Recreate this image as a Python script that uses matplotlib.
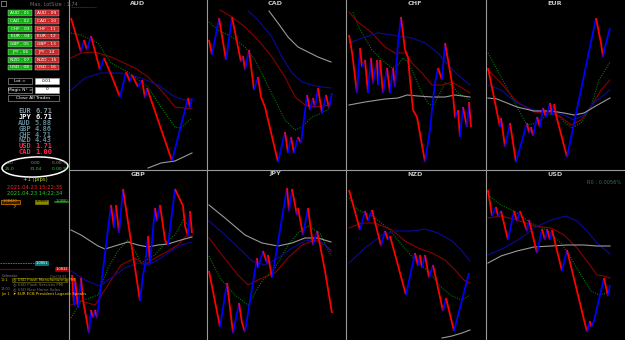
import matplotlib
matplotlib.use("Agg")
import matplotlib.pyplot as plt
from matplotlib.patches import Rectangle, Ellipse
from matplotlib.collections import LineCollection

# ---------------- data (bar index, level on screen scale; smaller = higher price) -------------
AUD_PIV = [(3,18),(13,52),(16,40),(19,50),(23,36),(32,70),(36,58),(42,72),(52,97),(58,72),(62,82),
           (64,75),(70,87),(74,80),(77,98),(79,88),(104,161),(120,98),(122,108),(124,98)]
AUD_GREEN = [(3,33),(13,35),(30,43),(43,63),(60,72),(80,87),(93,107),(107,127),(113,128),(124,118)]
AUD_RED = [(3,58),(13,53),(27,52),(43,57),(67,68),(80,77),(93,90),(107,107),(124,109)]
AUD_BLUE = [(3,90),(17,78),(33,73),(53,73),(73,78),(90,85),(107,97),(117,100),(124,100)]
AUD_GRAY = [(80,168),(93,163),(107,161),(124,153)]

CAD_PIV = [(4,40),(7,55),(14,18),(21,60),(27,17),(36,62),(38,56),(40,70),(44,50),(49,90),(53,77),
           (56,97),(60,107),(73,162),(80,132),(83,153),(86,137),(89,153),(93,137),(96,143),(102,95),
           (105,110),(108,98),(110,107),(113,88),(117,113),(121,95),(124,108),(127,93)]
CAD_GREEN = [(4,22),(13,30),(27,37),(40,47),(50,60),(60,80),(70,100),(80,120),(90,130),(97,127),
             (107,117),(117,113),(125,108)]
CAD_RED = [(15,10),(27,17),(40,27),(53,40),(67,57),(80,77),(90,97),(100,105),(110,107),(125,105)]
CAD_BLUE = [(43,11),(53,20),(67,37),(77,57),(87,73),(97,82),(107,85),(117,87),(126,88)]
CAD_GRAY = [(64,11),(73,23),(83,37),(93,47),(103,52),(113,57),(126,62)]

CHF_PIV = [(4,35),(7,52),(12,93),(15,48),(17,67),(20,60),(23,93),(26,58),(28,83),(32,60),(33,85),
           (35,60),(38,93),(42,68),(45,93),(48,68),(50,87),(53,43),(56,17),(60,50),(63,57),(65,80),
           (68,110),(72,117),(80,162),(85,130),(87,110),(90,83),(93,68),(97,80),(100,43),(103,60),
           (107,83),(110,118),(113,110),(115,137),(118,107),(122,127),(124,102),(126,127)]
CHF_GREEN = [(8,12),(12,23),(17,33),(27,50),(37,60),(47,68),(53,65),(58,58),(63,62),(70,77),(77,93),
             (83,103),(88,106),(95,93),(100,83),(107,85),(113,93),(120,97),(125,100)]
CHF_RED = [(4,12),(13,22),(27,33),(40,47),(50,53),(60,53),(67,63),(77,73),(87,85),(97,85),(107,82),
           (117,88),(125,93)]
CHF_BLUE = [(4,43),(17,38),(33,33),(47,35),(67,38),(80,43),(93,53),(103,65),(113,75),(125,85)]
CHF_GRAY = [(4,105),(20,102),(40,99),(53,98),(62,95),(73,96),(87,97),(100,97),(110,95),(125,97)]

EUR_PIV = [(4,68),(16,127),(17,118),(21,147),(26,123),(32,162),(43,123),(45,133),(47,127),(49,136),
           (53,117),(56,127),(59,108),(62,117),(66,103),(68,115),(70,104),(72,115),(83,157),(112,18),
           (117,43),(119,57),(121,47),(126,28)]
EUR_GREEN = [(4,53),(17,77),(33,107),(43,125),(53,123),(63,115),(72,113),(80,122),(88,128),(97,123),
             (107,107),(115,80),(126,62)]
EUR_RED = [(4,70),(17,83),(33,102),(50,112),(67,113),(77,117),(87,125),(97,120),(107,107),(117,90),
           (126,80)]
EUR_BLUE = [(4,85),(17,90),(33,103),(50,110),(67,112),(80,115),(90,120),(100,115),(110,103),(126,90)]
EUR_GRAY = [(4,98),(13,99),(33,107),(50,111),(67,111),(80,113),(90,115),(100,113),(110,107),(126,98)]

GBP_PIV = [(4,107),(6,137),(7,110),(10,140),(13,110),(15,132),(21,165),(23,142),(25,150),(27,142),
           (29,150),(43,37),(46,60),(48,37),(51,65),(55,21),(72,133),(75,107),(77,98),(80,68),(82,95),
           (87,40),(89,53),(92,37),(97,72),(100,77),(107,21),(115,38),(117,58),(120,68),(122,43),(124,65)]
GBP_GREEN = [(3,150),(13,133),(30,127),(40,100),(50,83),(60,72),(67,83),(73,95),(87,87),(97,75),
             (107,67),(115,52),(124,60)]
GBP_RED = [(3,137),(13,133),(27,137),(40,117),(53,97),(67,90),(77,97),(87,90),(100,83),(110,77),
           (118,68),(124,68)]
GBP_BLUE = [(3,103),(17,112),(32,118),(43,110),(57,100),(70,95),(80,97),(90,92),(100,85),(113,77),(124,74)]
GBP_GRAY = [(3,62),(13,67),(30,78),(37,81),(50,77),(60,74),(70,77),(80,79),(90,77),(100,76),(113,72),(124,69)]

JPY_PIV = [(4,103),(15,159),(22,115),(28,165),(34,135),(37,155),(40,164),(52,90),(53,100),(58,83),
           (62,95),(63,87),(67,110),(82,20),(84,43),(87,21),(92,47),(93,40),(98,67),(103,40),(108,77),
           (112,63),(115,77),(120,103),(127,145)]
JPY_GREEN = [(4,88),(15,110),(30,127),(43,137),(57,113),(70,100),(83,77),(93,65),(103,58),(115,65),(126,88)]
JPY_RED = [(4,70),(17,87),(33,107),(43,117),(57,110),(70,105),(83,90),(97,77),(110,72),(120,77),(126,83)]
JPY_BLUE = [(4,53),(20,67),(37,83),(47,93),(60,97),(73,90),(87,80),(100,73),(113,71),(126,82)]
JPY_GRAY = [(4,37),(20,50),(40,67),(57,75),(73,78),(87,75),(100,70),(113,70),(126,74)]

NZD_PIV = [(4,22),(15,62),(20,43),(23,53),(27,42),(36,78),(40,63),(43,72),(45,68),(61,127),(70,85),
           (73,98),(75,87),(77,100),(80,87),(84,110),(88,97),(98,143),(101,130),(109,163),(124,105)]
NZD_GREEN = [(4,30),(13,42),(27,48),(43,60),(57,77),(70,92),(83,103),(97,120),(107,128),(117,132),(125,127)]
NZD_RED = [(4,60),(17,55),(30,55),(47,62),(60,73),(73,80),(87,85),(100,92),(110,102),(120,113),(125,115)]
NZD_BLUE = [(4,95),(20,80),(37,67),(50,63),(67,63),(80,61),(93,65),(107,73),(117,83),(125,93)]
NZD_GRAY = [(97,170),(107,168),(117,165),(125,162)]

USD_PIV = [(4,22),(8,48),(12,39),(14,48),(17,43),(24,72),(30,43),(33,53),(36,43),(43,63),(45,52),
           (53,85),(58,61),(61,72),(63,61),(66,72),(68,62),(78,103),(83,82),(103,164),(106,153),
           (107,159),(110,153),(120,110),(124,128),(126,117)]
USD_GREEN = [(4,27),(17,37),(30,43),(47,55),(63,62),(77,75),(87,90),(97,107),(107,123),(115,127),(126,124)]
USD_RED = [(4,50),(17,48),(33,52),(50,58),(67,60),(80,67),(93,80),(103,93),(113,107),(120,108),(126,110)]
USD_BLUE = [(4,87),(20,80),(37,70),(50,60),(67,52),(82,48),(93,53),(103,63),(113,75),(126,86)]
USD_GRAY = [(4,95),(17,88),(33,83),(50,79),(67,78),(83,77),(100,77),(113,78),(126,78)]

BUY_BUTTONS = ["AUD - 01","CAD - 02","CHF - 03","EUR - 04","GBP - 05","JPY - 06","NZD - 07","USD - 08"]
SELL_BUTTONS = ["AUD - 09","CAD - 10","CHF - 11","EUR - 12","GBP - 13","JPY - 14","NZD - 15","USD - 16"]
STRENGTH_CCY = ["EUR","JPY","AUD","GBP","CHF","NZD","USD","CAD"]
STRENGTH_VAL = [6.71, 6.71, 5.88, 4.86, 4.71, 4.43, 1.71, 1.00]
STRENGTH_COL = ["#7d97a8","#ffffff","#5f8794","#5f8794","#5f8794","#5f8794","#ff2a55","#ff2a55"]
NEWS_TIME = ["10:1","","14:00","Jun 1"]
NEWS_TEXT = ["\u25ce USD Flash Manufacturing PMI","\u25ce USD Flash Services PMI",
             "\u25ce USD New Home Sales","\u27a4 EUR ECB President Lagarde Speaks"]
NEWS_COL = ["#d8c800","#707070","#707070","#ffd400"]

# ---------------- drawing -------------
W, H = 625, 340
fig = plt.figure(figsize=(6.25, 3.4), dpi=100, facecolor="black")

RENKO_UP, RENKO_DN = "#0000ff", "#ff0000"
MA_STYLES = [("#007a00", (0, (1, 1.2)), 0.8), ("#8a0000", "-", 0.8),
             ("#0a0a9a", "-", 0.8), ("#9a9a9a", "-", 0.8)]

def draw_panel(ox, oy, w, h, name, piv, mas, ty):
    ax = fig.add_axes([ox / W, 1 - (oy + h) / H, w / W, h / H])
    ax.set_xlim(0, w)
    ax.set_ylim(h, 0)
    ax.axis("off")
    ax.patch.set_visible(False)
    for ma, (c, ls, lw) in zip(mas, MA_STYLES):
        xs = [p[0] for p in ma]
        ys = [p[1] for p in ma]
        ax.plot(xs, ys, color=c, linestyle=ls, lw=lw, zorder=2)
    segs, cols = [], []
    for a, b in zip(piv[:-1], piv[1:]):
        segs.append([a, b])
        cols.append(RENKO_UP if b[1] < a[1] else RENKO_DN)
    ax.add_collection(LineCollection(segs, colors=cols, linewidths=1.3, zorder=3,
                                     capstyle="butt"))
    ax.text(w / 2, ty, name, color="#c8c8c8", fontsize=4.6, fontweight="bold",
            ha="center", va="center")
    return ax

cols_x = [68, 205, 345, 484]
rows = [(0, 170, 3.5), (168, 172, 6)]
top = [("AUD", AUD_PIV, [AUD_GREEN, AUD_RED, AUD_BLUE, AUD_GRAY]),
       ("CAD", CAD_PIV, [CAD_GREEN, CAD_RED, CAD_BLUE, CAD_GRAY]),
       ("CHF", CHF_PIV, [CHF_GREEN, CHF_RED, CHF_BLUE, CHF_GRAY]),
       ("EUR", EUR_PIV, [EUR_GREEN, EUR_RED, EUR_BLUE, EUR_GRAY])]
bot = [("GBP", GBP_PIV, [GBP_GREEN, GBP_RED, GBP_BLUE, GBP_GRAY]),
       ("JPY", JPY_PIV, [JPY_GREEN, JPY_RED, JPY_BLUE, JPY_GRAY]),
       ("NZD", NZD_PIV, [NZD_GREEN, NZD_RED, NZD_BLUE, NZD_GRAY]),
       ("USD", USD_PIV, [USD_GREEN, USD_RED, USD_BLUE, USD_GRAY])]
axes = {}
for (oy, h, ty), panels in zip(rows, [top, bot]):
    for ox, (name, piv, mas) in zip(cols_x, panels):
        axes[name] = draw_panel(ox, oy, 141 if ox == 484 else 140, h, name, piv, mas, ty)

axes["AUD"].plot([3, 28], [7, 7], color="#b00000", lw=0.6, ls=(0, (2, 0.6)))
axes["USD"].text(120, 14, "R0 : 0.0056%", color="#3f6a6a", fontsize=3.6, ha="center", va="center")

# overlay in pixel coordinates
ov = fig.add_axes([0, 0, 1, 1])
ov.set_xlim(0, W)
ov.set_ylim(H, 0)
ov.axis("off")
ov.patch.set_visible(False)

sep = "#9a9a9a"
for x in [69, 207, 346, 486]:
    ov.plot([x, x], [0, H], color=sep, lw=0.8)
ov.plot([69, W], [170, 170], color=sep, lw=0.8)

# ---- left control panel ----
ov.add_patch(Rectangle((1, 1), 5, 5, fill=False, ec="#a0a0a0", lw=0.5))
ov.text(30, 4, "Max. LotSize : 1.74", color="#707070", fontsize=3.6, va="center")

row_y = [10, 18, 26, 33.5, 41, 49, 57, 64.5]
for y, lb, ls in zip(row_y, BUY_BUTTONS, SELL_BUTTONS):
    ov.add_patch(Rectangle((8, y), 24, 5.5, fc="#10b010", ec="#d0d0d0", lw=0.3))
    ov.add_patch(Rectangle((35, y), 23.5, 5.5, fc="#c82828", ec="#d0d0d0", lw=0.3))
    ov.text(20, y + 2.9, lb, color="white", fontsize=3.2, ha="center", va="center")
    ov.text(46.7, y + 2.9, ls, color="white", fontsize=3.2, ha="center", va="center")

for y, lt, rt in [(78, "Lot =", "0.01"), (86.5, "Magic N\u00b0 =", "0")]:
    ov.add_patch(Rectangle((8, y), 24, 6, fc="black", ec="#b0b0b0", lw=0.4))
    ov.add_patch(Rectangle((35, y), 23.5, 6, fc="white", ec="#b0b0b0", lw=0.4))
    ov.text(20, y + 3, lt, color="white", fontsize=3.2, ha="center", va="center")
    ov.text(46.7, y + 3, rt, color="black", fontsize=3.2, ha="center", va="center")
ov.add_patch(Rectangle((8, 95), 50.5, 6, fc="black", ec="#b0b0b0", lw=0.4))
ov.text(33, 98, "Close All Trades", color="white", fontsize=3.2, ha="center", va="center")

for i, (c, v, col) in enumerate(zip(STRENGTH_CCY, STRENGTH_VAL, STRENGTH_COL)):
    y = 111 + i * 5.9
    ov.text(31, y, c, color=col, fontsize=5, family="DejaVu Sans Mono", fontweight="bold",
            ha="right", va="center")
    ov.text(35, y, f"{v:.2f}", color=col, fontsize=5, family="DejaVu Sans Mono",
            fontweight="bold", ha="left", va="center")

ov.add_patch(Ellipse((35, 167), 66, 20, angle=-2, fill=False, ec="white", lw=1.1))
for x, t in [(10, "0.0"), (36, "0.00"), (60, "0.00 %")]:
    ov.text(x, 163.5, t, color="#909090", fontsize=3.2, ha="center", va="center")
for x, t in [(10, "25.0"), (36, "31.04"), (60, "0.00 %")]:
    ov.text(x, 169, t, color="#30d030", fontsize=3.2, ha="center", va="center")

ov.text(35, 179.5, "+1 (pips)", color="#a8d030", fontsize=3.8, ha="center", va="center")
ov.text(35, 187.5, "2021.04.23 15:22:35", color="#ff2020", fontsize=3.8, ha="center", va="center")
ov.text(35, 193.5, "2021.04.23 14:22:34", color="#20d020", fontsize=3.8, ha="center", va="center")

ov.add_patch(Rectangle((0.5, 199.5), 19.5, 4, fill=True, fc="#3a2000", ec="#e08000", lw=0.5))
ov.text(10, 201.5, "1.08420", color="#e0a040", fontsize=2.6, ha="center", va="center")
ov.add_patch(Rectangle((35, 199.5), 13, 4, fc="#8a8a00", ec="#8a8a00", lw=0.4))
ov.text(41.5, 201.5, "1.0865", color="black", fontsize=2.6, ha="center", va="center")
ov.plot([55, 68], [201.5, 201.5], color="#208020", lw=1.2)
ov.text(61.5, 201.5, "1.0880", color="#40e040", fontsize=2.6, ha="center", va="center")
ov.plot([12, 16, 14], [204, 206, 208], color="#c08000", lw=0.4)

ov.plot([0, 35], [263, 263], color="#00a0a0", lw=0.6, ls=(0, (2, 1)))
ov.add_patch(Rectangle((35, 261), 13, 4, fc="#007878", ec="#00a0a0", lw=0.4))
ov.text(41.5, 263, "1.0851", color="white", fontsize=2.6, ha="center", va="center")
ov.plot([0, 33], [268.5, 268.5], color="#900000", lw=0.8)
ov.add_patch(Rectangle((55, 266.5), 13, 4, fc="#b00000", ec="#b00000", lw=0.4))
ov.text(61.5, 268.5, "1.0832", color="white", fontsize=2.6, ha="center", va="center")

ov.text(2, 276, "Calendar", color="#808080", fontsize=2.6, va="center")
ov.text(66, 276, "Ctrl [3.5]", color="#808080", fontsize=2.6, va="center", ha="right")
ov.add_patch(Rectangle((11.5, 278), 55, 4.2, fill=False, ec="#808000", lw=0.4))
for i, (tm, tx, c) in enumerate(zip(NEWS_TIME, NEWS_TEXT, NEWS_COL)):
    y = 280 + i * 4.7
    ov.text(1, y, tm, color=c, fontsize=2.4, va="center")
    ov.text(13, y, tx, color=c, fontsize=2.8, va="center")

fig.savefig("out.png", dpi=100, facecolor="black")
